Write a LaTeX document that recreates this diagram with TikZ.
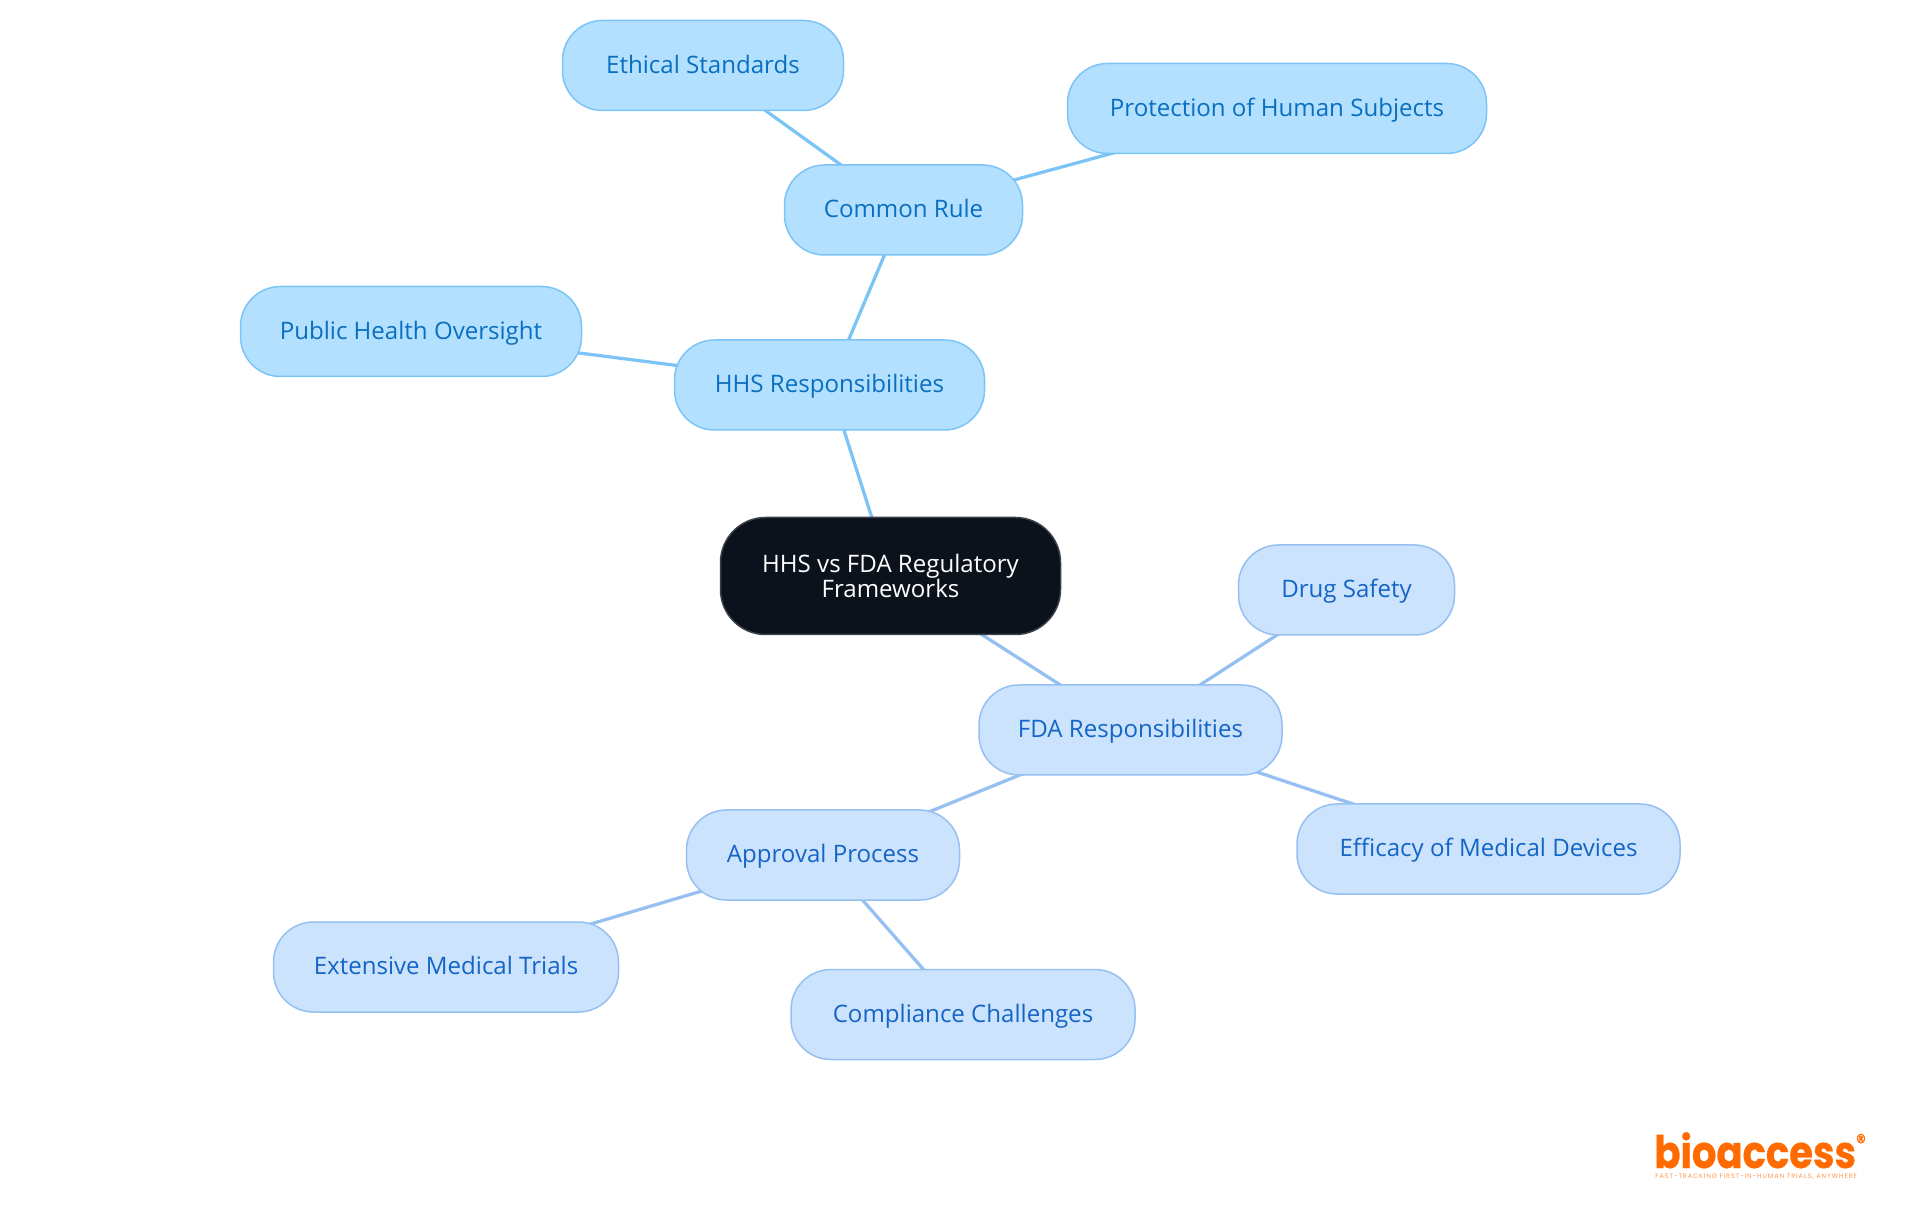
\documentclass[tikz,border=0pt]{standalone}
\usepackage{fontspec}
\setmainfont{Open Sans}
\newfontfamily\logofont[FakeStretch=0.86,FakeBold=0.6]{Poppins}
\newfontfamily\tagfont[LetterSpace=14]{Poppins}
\usetikzlibrary{backgrounds}
\definecolor{hhsfill}{HTML}{B3E0FF}
\definecolor{hhsline}{HTML}{7CC4F6}
\definecolor{hhstext}{HTML}{0A6FBF}
\definecolor{fdafill}{HTML}{CCE3FD}
\definecolor{fdaline}{HTML}{95C0F1}
\definecolor{fdatext}{HTML}{1565C6}
\definecolor{rootfill}{HTML}{0B121B}
\definecolor{logoorange}{HTML}{FF6B00}
\tikzset{
  idea/.style={
    rectangle,
    rounded corners=0.8cm,
    line width=0.03cm,
    minimum height=1.8cm,
    inner sep=0pt,
    align=center,
    font=\fontsize{13.7}{14.6}\selectfont
  },
  hhsbox/.style={idea, text height=0.4cm, text depth=0.09cm, draw=hhsline, fill=hhsfill, text=hhstext},
  fdabox/.style={idea, text height=0.4cm, text depth=0.09cm, draw=fdaline, fill=fdafill, text=fdatext},
  rootbox/.style={idea, draw=rootfill!80!white, fill=rootfill, text=white, rounded corners=0.9cm},
  hhslink/.style={draw=hhsline, line width=0.065cm},
  fdalink/.style={draw=fdaline, line width=0.065cm}
}

\begin{document}
\begin{tikzpicture}
\useasboundingbox (0,0) rectangle (38.4,24.3);

% --- centre ---
\node (root) [rootbox, minimum width=6.8cm, minimum height=2.34cm] at (17.81,12.78) {HHS vs FDA Regulatory\\Frameworks};

% --- HHS side ---
\node (hhs) [hhsbox, minimum width=6.2cm] at (16.59,16.6) {HHS Responsibilities};
\node (health) [hhsbox, minimum width=6.82cm] at (8.22,17.67) {Public Health Oversight};
\node (rule) [hhsbox, minimum width=4.76cm] at (18.07,20.1) {Common Rule};
\node (ethical) [hhsbox, minimum width=5.62cm] at (14.06,22.99) {Ethical Standards};
\node (subjects) [hhsbox, minimum width=8.38cm] at (25.54,22.13) {Protection of Human Subjects};

% --- FDA side ---
\node (fda) [fdabox, minimum width=6.06cm] at (22.61,9.7) {FDA Responsibilities};
\node (drug) [fdabox, minimum width=4.32cm] at (26.93,12.5) {Drug Safety};
\node (efficacy) [fdabox, minimum width=7.66cm] at (29.77,7.32) {Efficacy of Medical Devices};
\node (approval) [fdabox, minimum width=5.46cm] at (16.46,7.2) {Approval Process};
\node (trials) [fdabox, minimum width=6.9cm] at (8.92,4.96) {Extensive Medical Trials};
\node (compliance) [fdabox, minimum width=6.88cm] at (19.26,4.01) {Compliance Challenges};

% --- links ---
\begin{scope}[on background layer]
\draw[hhslink] (root.center) -- (hhs.center);
\draw[hhslink] (hhs.center) -- (health.center);
\draw[hhslink] (hhs.center) -- (rule.center);
\draw[hhslink] (rule.center) -- (ethical.center);
\draw[hhslink] (rule.center) -- (subjects.center);
\draw[fdalink] (root.center) -- (fda.center);
\draw[fdalink] (fda.center) -- (drug.center);
\draw[fdalink] (fda.center) -- (efficacy.center);
\draw[fdalink] (fda.center) -- (approval.center);
\draw[fdalink] (approval.center) -- (trials.center);
\draw[fdalink] (approval.center) -- (compliance.center);
\end{scope}

% --- logo ---
\node (logo) [anchor=base west, inner sep=0pt, text depth=0pt, text=logoorange, font=\logofont\bfseries\fontsize{25.5}{26}\selectfont] at (33.08,0.94) {bioaccess};
\node (registered) [anchor=center, inner sep=0pt, text=logoorange, font=\logofont\fontsize{13}{13}\selectfont] at (37.22,1.46) {®};
\node (tagline) [anchor=west, inner sep=0pt, text=logoorange!70!white, font=\tagfont\fontsize{3.7}{3.7}\selectfont] at (33.1,0.76) {FAST-TRACKING FIRST-IN-HUMAN TRIALS, ANYWHERE};
\end{tikzpicture}
\end{document}
